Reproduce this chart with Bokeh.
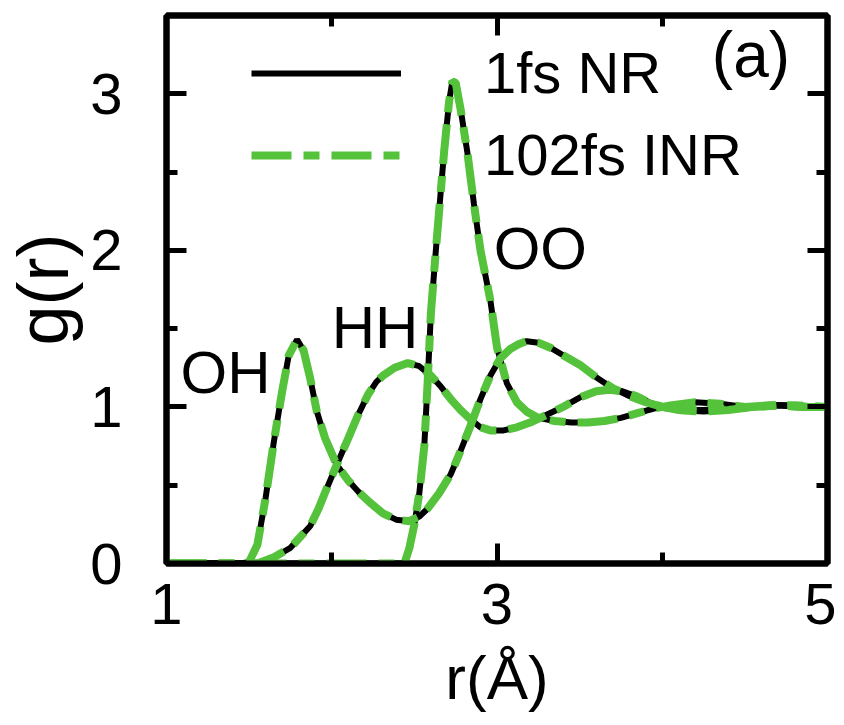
from bokeh.plotting import figure
from bokeh.models import (FixedTicker, LinearAxis, Range1d, Legend, LegendItem,
                          Label, ColumnDataSource, CustomLabelingPolicy)
from bokeh.embed import file_html
from bokeh.resources import INLINE

# ---- data ----
r_oh = [1.0, 1.45, 1.50, 1.55, 1.60, 1.65, 1.70, 1.74, 1.79, 1.83, 1.87, 1.91, 1.96,
        2.03, 2.10, 2.16, 2.23, 2.31, 2.39, 2.47, 2.53, 2.58, 2.65, 2.72, 2.78, 2.84,
        2.90, 2.96, 3.02, 3.08, 3.13, 3.18, 3.25, 3.32, 3.40, 3.50, 3.60, 3.70, 3.80,
        3.90, 4.00, 4.10, 4.25, 4.40, 4.55, 4.70, 4.85, 5.0]
g_oh = [0.0, 0.0, 0.01, 0.12, 0.42, 0.78, 1.10, 1.33, 1.43, 1.36, 1.18, 0.97, 0.80,
        0.63, 0.53, 0.46, 0.39, 0.32, 0.28, 0.27, 0.30, 0.35, 0.45, 0.57, 0.72, 0.88,
        1.05, 1.20, 1.31, 1.37, 1.40, 1.42, 1.41, 1.38, 1.33, 1.27, 1.19, 1.12, 1.07,
        1.03, 1.00, 0.98, 0.97, 0.98, 1.00, 1.01, 1.00, 1.00]

r_hh = [1.0, 1.55, 1.65, 1.75, 1.81, 1.87, 1.92, 1.97, 2.03, 2.10, 2.16, 2.22, 2.27,
        2.31, 2.38, 2.46, 2.53, 2.60, 2.66, 2.72, 2.78, 2.84, 2.90, 2.96, 3.04, 3.12,
        3.20, 3.30, 3.40, 3.50, 3.60, 3.68, 3.76, 3.84, 3.92, 4.00, 4.10, 4.25, 4.40,
        4.55, 4.70, 4.85, 5.0]
g_hh = [0.0, 0.0, 0.04, 0.10, 0.17, 0.24, 0.35, 0.48, 0.63, 0.80, 0.95, 1.08, 1.16,
        1.20, 1.25, 1.28, 1.26, 1.20, 1.13, 1.05, 0.98, 0.92, 0.87, 0.85, 0.85, 0.87,
        0.90, 0.95, 1.00, 1.06, 1.10, 1.11, 1.10, 1.07, 1.03, 1.00, 0.98, 0.98, 0.99,
        1.00, 1.01, 1.00, 1.00]

r_oo = [1.0, 2.44, 2.47, 2.50, 2.53, 2.56, 2.58, 2.60, 2.63, 2.66, 2.68, 2.71, 2.73,
        2.75, 2.78, 2.82, 2.86, 2.90, 2.96, 3.00, 3.06, 3.12, 3.18, 3.25, 3.35, 3.45,
        3.55, 3.65, 3.75, 3.85, 3.95, 4.05, 4.20, 4.35, 4.50, 4.65, 4.80, 5.0]
g_oo = [0.0, 0.0, 0.10, 0.25, 0.45, 0.75, 1.15, 1.60, 2.00, 2.38, 2.63, 2.95, 3.08,
        3.07, 2.90, 2.63, 2.30, 2.00, 1.68, 1.38, 1.15, 1.03, 0.97, 0.93, 0.91, 0.90,
        0.90, 0.91, 0.93, 0.96, 0.99, 1.01, 1.03, 1.02, 1.00, 1.01, 1.01, 1.00]

x_ticks = [1, 3, 5]
x_minor = [2, 4]
y_ticks = [0, 1, 2, 3]
y_minor = [0.5, 1.5, 2.5]

series_names = ["1fs NR", "102fs INR"]
GREEN = "#55c23b"
FONT = "Liberation Sans"
FS = "58px"

p = figure(width=836, height=725, output_backend="svg", toolbar_location=None,
           x_range=Range1d(1, 5), y_range=Range1d(0, 3.5),
           min_border_left=166, min_border_right=9, min_border_top=15,
           min_border_bottom=162)
p.xgrid.visible = False
p.ygrid.visible = False
p.background_fill_color = "white"
p.border_fill_color = "white"
p.outline_line_color = "black"
p.outline_line_width = 6

black_rs = []
green_rs = []
for rr, gg in [(r_oh, g_oh), (r_hh, g_hh), (r_oo, g_oo)]:
    src = ColumnDataSource(dict(r=rr, g=gg))
    black_rs.append(p.line("r", "g", source=src, line_color="black", line_width=6))
for rr, gg in [(r_oh, g_oh), (r_hh, g_hh), (r_oo, g_oo)]:
    src = ColumnDataSource(dict(r=rr, g=gg))
    green_rs.append(p.line("r", "g", source=src, line_color=GREEN, line_width=8,
                           line_dash="40 12 16 12"))

xt = FixedTicker(ticks=x_ticks, minor_ticks=x_minor)
yt = FixedTicker(ticks=y_ticks, minor_ticks=y_minor)

def style(ax, labels=True):
    ax.axis_line_width = 6
    ax.axis_line_color = "black"
    ax.major_tick_in = 20
    ax.major_tick_out = 0
    ax.minor_tick_in = 11
    ax.minor_tick_out = 0
    ax.major_tick_line_width = 5
    ax.minor_tick_line_width = 5
    ax.major_tick_line_color = "black"
    ax.minor_tick_line_color = "black"
    ax.major_label_text_font = FONT
    ax.major_label_text_color = "black"
    ax.axis_label_text_font = FONT
    ax.axis_label_text_font_style = "normal"
    ax.axis_label_text_color = "black"
    if labels:
        ax.major_label_text_font_size = FS
    else:
        ax.major_label_text_font_size = "1px"
        ax.major_label_standoff = 0
        ax.major_label_policy = CustomLabelingPolicy(code="return new Set()")

p.xaxis.ticker = xt
p.yaxis.ticker = yt
style(p.xaxis[0])
style(p.yaxis[0])
p.xaxis.axis_label = "r(Å)"
p.yaxis.axis_label = "g(r)"
p.xaxis.axis_label_text_font_size = "62px"
p.yaxis.axis_label_text_font_size = "72px"
p.xaxis.major_label_standoff = 20
p.xaxis.axis_label_standoff = 16
p.yaxis.major_label_standoff = 44
p.yaxis.axis_label_standoff = 4

top = LinearAxis(ticker=xt)
right = LinearAxis(ticker=yt)
style(top, labels=False)
style(right, labels=False)
p.add_layout(top, "above")
p.add_layout(right, "right")

legend = Legend(items=[LegendItem(label=series_names[0], renderers=[black_rs[0]]),
                       LegendItem(label=series_names[1], renderers=[green_rs[0]])],
                location=(85, 375), orientation="vertical",
                glyph_width=150, glyph_height=40, label_standoff=83,
                label_text_font=FONT, label_text_font_size=FS,
                label_text_color="black", spacing=15, padding=0, margin=0,
                border_line_color=None, background_fill_alpha=0)
p.add_layout(legend)

for txt, x, y, fs in [("OH", 1.085, 1.22, "60px"), ("HH", 2.0, 1.51, "60px"),
                      ("OO", 2.98, 2.01, "60px"), ("(a)", 4.3, 3.25, "64px")]:
    p.add_layout(Label(x=x, y=y, text=txt, text_font=FONT, text_font_size=fs,
                       text_color="black", text_align="left", text_baseline="alphabetic"))

open("out.html", "w").write(file_html(p, INLINE))
